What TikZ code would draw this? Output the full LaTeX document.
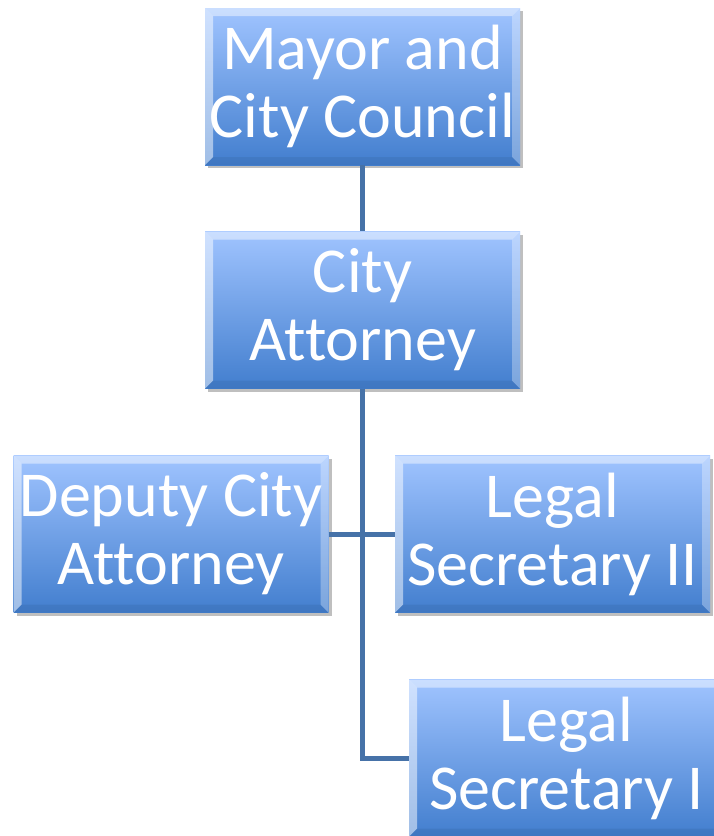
\documentclass[tikz,border=0pt]{standalone}
\usepackage{fontspec}
\setmainfont{Carlito}[RawFeature={-liga}]
\usetikzlibrary{shadows}
\definecolor{boxtop}{RGB}{160,196,255}
\definecolor{boxbot}{RGB}{66,126,206}
\definecolor{linecol}{RGB}{70,114,168}
\tikzset{
  orgbox/.style={rectangle, minimum width=315pt, minimum height=157pt, inner sep=0pt,
    top color=boxtop, bottom color=boxbot, text=white, align=center,
    font=\fontsize{64}{68}\selectfont,
    drop shadow={shadow xshift=3pt, shadow yshift=-3pt, opacity=0.25, fill=black},
    path picture={
      \fill[white,opacity=0.45] (path picture bounding box.north west) -- (path picture bounding box.north east)
        -- ([xshift=-8pt,yshift=-8pt]path picture bounding box.north east) -- ([xshift=8pt,yshift=-8pt]path picture bounding box.north west) -- cycle;
      \fill[white,opacity=0.5] (path picture bounding box.north west) -- ([xshift=8pt,yshift=-8pt]path picture bounding box.north west)
        -- ([xshift=8pt,yshift=8pt]path picture bounding box.south west) -- (path picture bounding box.south west) -- cycle;
      \fill[white,opacity=0.3] (path picture bounding box.north east) -- ([xshift=-8pt,yshift=-8pt]path picture bounding box.north east)
        -- ([xshift=-8pt,yshift=8pt]path picture bounding box.south east) -- (path picture bounding box.south east) -- cycle;
      \fill[black,opacity=0.06] (path picture bounding box.south west) -- ([xshift=8pt,yshift=8pt]path picture bounding box.south west)
        -- ([xshift=-8pt,yshift=8pt]path picture bounding box.south east) -- (path picture bounding box.south east) -- cycle;
    }},
  orgline/.style={draw=linecol, line width=5pt}
}
\begin{document}
\begin{tikzpicture}[x=1pt,y=-1pt]
\clip (0,0) rectangle (714,836);
\fill[white] (0,0) rectangle (714,836);
\node[orgbox] (mayor) at (362.5,86.5) {Mayor and\\City Council};
\node[orgbox] (ca) at (362.5,310) {City\\Attorney};
\node[orgbox] (dep) at (171,534) {Deputy City\\Attorney};
\node[orgbox] (ls2) at (552.5,534) {Legal\\Secretary II};
\node[orgbox] (ls1) at (566.5,758) {Legal\\Secretary I};
\draw[orgline] (mayor.south) -- (ca.north);
\draw[orgline] (ca.south) |- (ls1.west);
\draw[orgline] (dep.east) -- (ls2.west);
\end{tikzpicture}
\end{document}
